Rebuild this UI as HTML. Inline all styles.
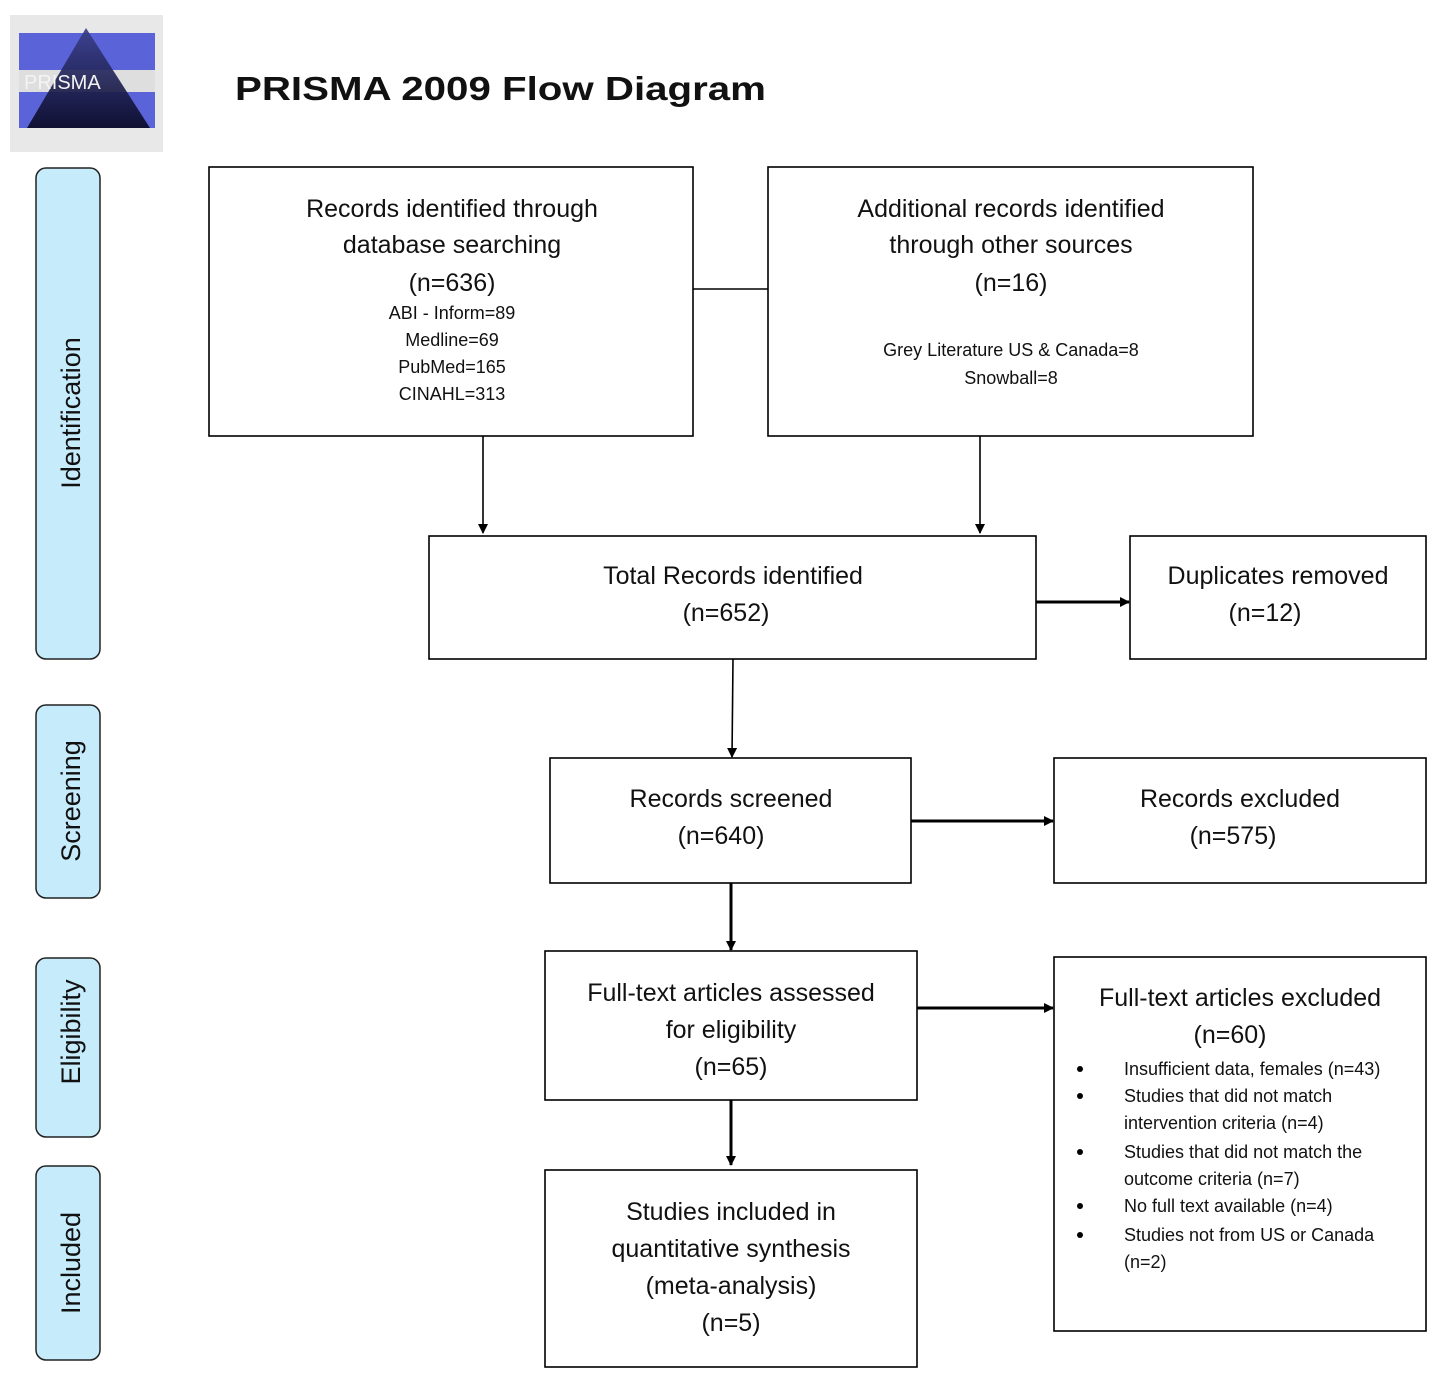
<!DOCTYPE html>
<html><head><meta charset="utf-8"><style>
body{margin:0;background:#fff;width:1435px;height:1382px;overflow:hidden}
svg{display:block}
text{font-family:"Liberation Sans",sans-serif;fill:#111}
</style></head><body>
<svg width="1435" height="1382" viewBox="0 0 1435 1382" xmlns="http://www.w3.org/2000/svg">
<defs>
<marker id="ar" markerWidth="10" markerHeight="10" refX="9" refY="5" orient="auto" markerUnits="userSpaceOnUse"><path d="M0,0 L10,5 L0,10 z" fill="#000"/></marker>
<linearGradient id="tri" x1="0" y1="0" x2="0" y2="1"><stop offset="0" stop-color="#3a3f8a"/><stop offset="1" stop-color="#0a0a25"/></linearGradient>
</defs>
<rect x="10" y="15" width="153" height="137" fill="#e8e8e8"/>
<rect x="19" y="33" width="136" height="37" fill="#5a63d8"/>
<rect x="19" y="92" width="136" height="36" fill="#5a63d8"/>
<rect x="19" y="70" width="136" height="22" fill="#dedede"/>
<polygon points="86,28 150,128 27,128" fill="url(#tri)" opacity="0.92"/>
<text x="24" y="89" font-size="20" font-family="Liberation Serif" style="fill:#f4f4f4">PRISMA</text>
<text x="235" y="100" font-size="33" font-weight="bold" textLength="531" lengthAdjust="spacingAndGlyphs">PRISMA 2009 Flow Diagram</text>
<g fill="#c6ecfc" stroke="#222" stroke-width="1.5">
<rect x="36" y="168" width="64" height="491" rx="10"/>
<rect x="36" y="705" width="64" height="193" rx="10"/>
<rect x="36" y="958" width="64" height="179" rx="10"/>
<rect x="36" y="1166" width="64" height="194" rx="10"/>
</g>
<g font-size="27" text-anchor="middle">
<text transform="translate(80,413) rotate(-90)">Identification</text>
<text transform="translate(80,801) rotate(-90)">Screening</text>
<text transform="translate(80,1032) rotate(-90)">Eligibility</text>
<text transform="translate(80,1263) rotate(-90)">Included</text>
</g>
<g fill="none" stroke="#000" stroke-width="1.6">
<rect x="209" y="167" width="484" height="269"/>
<rect x="768" y="167" width="485" height="269"/>
<rect x="429" y="536" width="607" height="123"/>
<rect x="1130" y="536" width="296" height="123"/>
<rect x="550" y="758" width="361" height="125"/>
<rect x="1054" y="758" width="372" height="125"/>
<rect x="545" y="951" width="372" height="149"/>
<rect x="1054" y="957" width="372" height="374"/>
<rect x="545" y="1170" width="372" height="197"/>
<line x1="693" y1="289" x2="768" y2="289"/>
</g>
<g stroke="#000" stroke-width="1.6" marker-end="url(#ar)">
<line x1="483" y1="436" x2="483" y2="533"/>
<line x1="980" y1="436" x2="980" y2="533"/>
<line x1="733" y1="659" x2="732" y2="757" />
<line x1="1036" y1="602" x2="1129" y2="602" stroke-width="3"/>
<line x1="911" y1="821" x2="1053" y2="821" stroke-width="3"/>
<line x1="731" y1="883" x2="731" y2="950" stroke-width="3"/>
<line x1="917" y1="1008" x2="1053" y2="1008" stroke-width="3"/>
<line x1="731" y1="1100" x2="731" y2="1165" stroke-width="3"/>
</g>
<g font-size="25" text-anchor="middle">
<text x="452" y="217">Records identified through</text>
<text x="452" y="253">database searching</text>
<text x="452" y="291">(n=636)</text>
<text x="1011" y="217">Additional records identified</text>
<text x="1011" y="253">through other sources</text>
<text x="1011" y="291">(n=16)</text>
<text x="733" y="584">Total Records identified</text>
<text x="726" y="621">(n=652)</text>
<text x="1278" y="584">Duplicates removed</text>
<text x="1265" y="621">(n=12)</text>
<text x="731" y="807">Records screened</text>
<text x="721" y="844">(n=640)</text>
<text x="1240" y="807">Records excluded</text>
<text x="1233" y="844">(n=575)</text>
<text x="731" y="1001">Full-text articles assessed</text>
<text x="731" y="1038">for eligibility</text>
<text x="731" y="1075">(n=65)</text>
<text x="1240" y="1006">Full-text articles excluded</text>
<text x="1230" y="1043">(n=60)</text>
<text x="731" y="1220">Studies included in</text>
<text x="731" y="1257">quantitative synthesis</text>
<text x="731" y="1294">(meta-analysis)</text>
<text x="731" y="1331">(n=5)</text>
</g>
<g font-size="18" text-anchor="middle">
<text x="452" y="319">ABI - Inform=89</text>
<text x="452" y="346">Medline=69</text>
<text x="452" y="373">PubMed=165</text>
<text x="452" y="400">CINAHL=313</text>
<text x="1011" y="356">Grey Literature US &amp; Canada=8</text>
<text x="1011" y="384">Snowball=8</text>
</g>
<g font-size="18">
<text x="1124" y="1075">Insufficient data, females (n=43)</text>
<text x="1124" y="1102">Studies that did not match</text>
<text x="1124" y="1129">intervention criteria (n=4)</text>
<text x="1124" y="1158">Studies that did not match the</text>
<text x="1124" y="1185">outcome criteria (n=7)</text>
<text x="1124" y="1212">No full text available (n=4)</text>
<text x="1124" y="1241">Studies not from US or Canada</text>
<text x="1124" y="1268">(n=2)</text>
</g>
<g fill="#000">
<circle cx="1080" cy="1069" r="3"/>
<circle cx="1080" cy="1096" r="3"/>
<circle cx="1080" cy="1152" r="3"/>
<circle cx="1080" cy="1206" r="3"/>
<circle cx="1080" cy="1235" r="3"/>
</g>
</svg>
</body></html>
